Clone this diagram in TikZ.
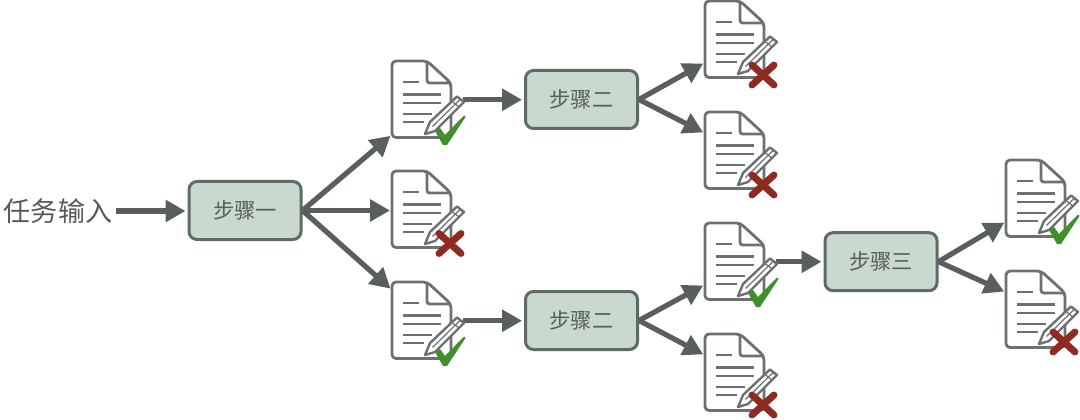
\documentclass[tikz,border=0pt]{standalone}
\usepackage{fontspec}
\setmainfont{Noto Sans CJK SC}
\usetikzlibrary{arrows.meta}
\definecolor{arrowgray}{HTML}{595E60}
\definecolor{docgray}{HTML}{6C7071}
\definecolor{boxfill}{HTML}{C9D9CD}
\definecolor{boxline}{HTML}{5F6B66}
\definecolor{txtgray}{HTML}{55605A}
\definecolor{okgreen}{HTML}{3F8F2B}
\definecolor{badred}{HTML}{8E2A20}
\tikzset{
  x=0.75pt, y=-0.75pt,
  stepbox/.style={draw=boxline, fill=boxfill, line width=2.25pt, rounded corners=6pt,
    minimum width=84pt, minimum height=43.5pt, inner sep=0pt, text=txtgray, font=\fontsize{16pt}{18pt}\selectfont},
  inputlabel/.style={inner sep=0pt, inner xsep=3pt, text=black!65, font=\fontsize{20.3pt}{24pt}\selectfont},
  docslot/.style={minimum width=52.5pt, minimum height=57.75pt, inner sep=0pt, anchor=north west},
  flow/.style={draw=arrowgray, line width=3.9pt, shorten >=1.5pt, -{Triangle[length=15pt,width=16pt]}},
  docline/.style={draw=docgray, line width=2.1pt, line join=round},
  textline/.style={draw=docgray, line width=1.9pt},
  pencil/.style={draw=docgray, fill=white, line width=1.8pt, line join=round},
  tick/.style={fill=okgreen, draw=none},
  cross/.style={draw=badred, line width=5.2pt, line cap=round}
}
\newcommand{\docicon}[3]{%
  \begin{scope}[shift={(#1,#2)}]
    \draw[docline, fill=white, rounded corners=3pt] (0,0) -- (35,0) -- (59,22) -- (59,76.5) -- (0,76.5) -- cycle;
    \draw[docline, rounded corners=2pt] (35,0) -- (35,22) -- (59,22);
    \draw[textline] (11,21) -- (27,21);
    \draw[textline] (11,33.5) -- (49,33.5);
    \draw[textline] (11,42) -- (49,42);
    \draw[textline] (11,53) -- (40,53);
    \draw[textline] (11,61) -- (32,61);
    \draw[pencil] (33,73) -- (38,61) -- (65,35.5) -- (72,41) -- (43,70) -- cycle;
    \draw[docgray, line width=0.9pt] (40.5,65.5) -- (68,38.5);
    \draw[docgray, line width=0.9pt] (60,40.5) -- (67,46);
    #3
  \end{scope}}
\newcommand{\okmark}{\fill[tick] (43,70) -- (48,67) -- (53,74) -- (72,54.5) -- (73.5,56) -- (55,84) -- (51,84) -- cycle;}
\newcommand{\badmark}[1]{\draw[cross] (47,#1-10) -- (69,#1+10); \draw[cross] (69,#1-10) -- (47,#1+10);}
\begin{document}
\begin{tikzpicture}
\useasboundingbox[fill=white] (0,0) rectangle (1080,420);
% steps
\node[stepbox] (s1) at (245,210.5) {步骤一};
\node[stepbox] (s2a) at (581.5,99.5) {步骤二};
\node[stepbox] (s2b) at (581.5,320.5) {步骤二};
\node[stepbox] (s3) at (881,261.7) {步骤三};
\node[inputlabel] (in) at (58,211) {任务输入};
% document slots
\node[docslot] (d1) at (392,61) {};
\node[docslot] (d2) at (392,171.5) {};
\node[docslot] (d3) at (392,282) {};
\node[docslot] (d4) at (705,1) {};
\node[docslot] (d5) at (705,112) {};
\node[docslot] (d6) at (705,223) {};
\node[docslot] (d7) at (705,334) {};
\node[docslot] (d8) at (1006,160) {};
\node[docslot] (d9) at (1006,271) {};
% connectors
\draw[flow] (in.east) -- (in.east -| s1.west);
\draw[flow] (s1.east) -- ([yshift=3pt]d1.south west);
\draw[flow] (s1.east) -- (s1.east -| d2.west);
\draw[flow] (s1.east) -- ([yshift=-6pt]d3.north west);
\draw[flow] (d1.east) -- (d1.east -| s2a.west);
\draw[flow] (d3.east) -- (d3.east -| s2b.west);
\draw[flow] (s2a.east) -- ([yshift=12pt]d4.south west);
\draw[flow] (s2a.east) -- ([yshift=-16pt]d5.north west);
\draw[flow] (s2b.east) -- ([yshift=12pt]d6.south west);
\draw[flow] (s2b.east) -- ([yshift=-16pt]d7.north west);
\draw[flow] (d6.east) -- (d6.east -| s3.west);
\draw[flow] (s3.east) -- ([yshift=12pt]d8.south west);
\draw[flow] (s3.east) -- ([yshift=-16pt]d9.north west);
% document icons
\docicon{392}{61}{\okmark}
\docicon{392}{171}{\badmark{72.5}}
\docicon{392}{282}{\okmark}
\docicon{705}{1}{\badmark{74}}
\docicon{705}{112}{\badmark{73}}
\docicon{705}{223}{\okmark}
\docicon{705}{334}{\badmark{71}}
\docicon{1006}{160}{\okmark}
\docicon{1006}{271}{\badmark{71}}
\end{tikzpicture}
\end{document}
